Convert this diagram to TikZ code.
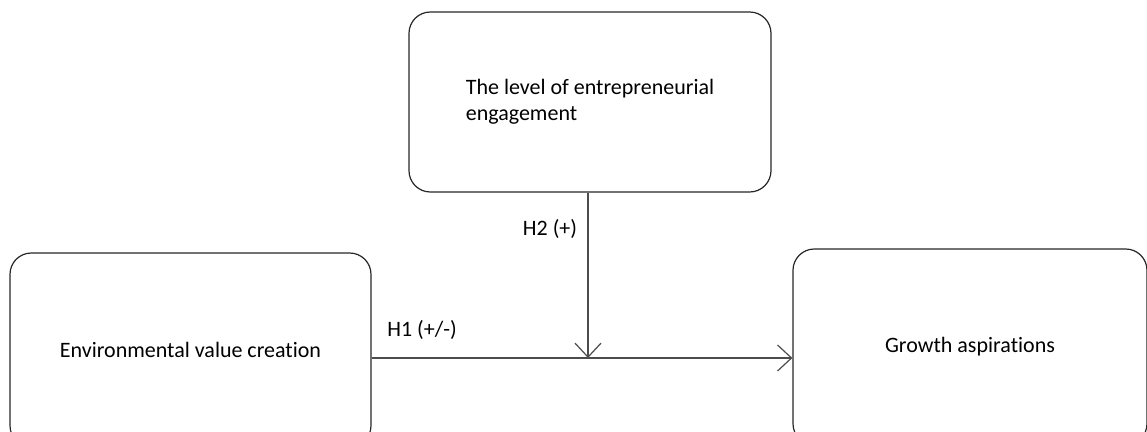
\documentclass[tikz,border=0pt]{standalone}
\usepackage{fontspec}
\setmainfont{Carlito}[Ligatures=NoCommon]
\usetikzlibrary{positioning,arrows.meta}

\tikzset{
  box/.style={draw=black!85, line width=0.9pt, rounded corners=16pt,
    inner sep=0pt, font=\fontsize{16.5}{19.5}\selectfont},
  arr/.style={draw=black!70, line width=0.9pt,
    -{Straight Barb[length=10.5pt,width=19.5pt,line width=0.9pt]}},
  lbl/.style={font=\fontsize{16.5}{19.5}\selectfont, inner sep=0pt}
}

\begin{document}
\begin{tikzpicture}[x=0.75pt,y=-0.75pt]
\useasboundingbox (0,0) rectangle (1147,432);
\clip (0,0) rectangle (1147,432);
% the three boxes (the lower two run off the bottom edge)
\node[box, minimum width=271.5pt, minimum height=135pt, align=left]
  (engage) at (590,102) {The level of entrepreneurial\\engagement};
\node[box, minimum width=270.75pt, minimum height=145.5pt] (envval) at (190.5,350)
  {Environmental value creation};
\node[box, minimum width=265.5pt, minimum height=147pt] (growth) at (970,347)
  {Growth aspirations};
% where the two paths meet
\coordinate (meet) at (588,358);
\draw[arr] (envval.east |- meet) -- (growth.west |- meet);
\draw[arr] (engage.south -| meet) -- (meet);
% hypothesis labels
\node[lbl] (hone) at (422,330) {H1 (+/-)};
\node[lbl] (htwo) at (550,229) {H2 (+)};
\end{tikzpicture}
\end{document}
